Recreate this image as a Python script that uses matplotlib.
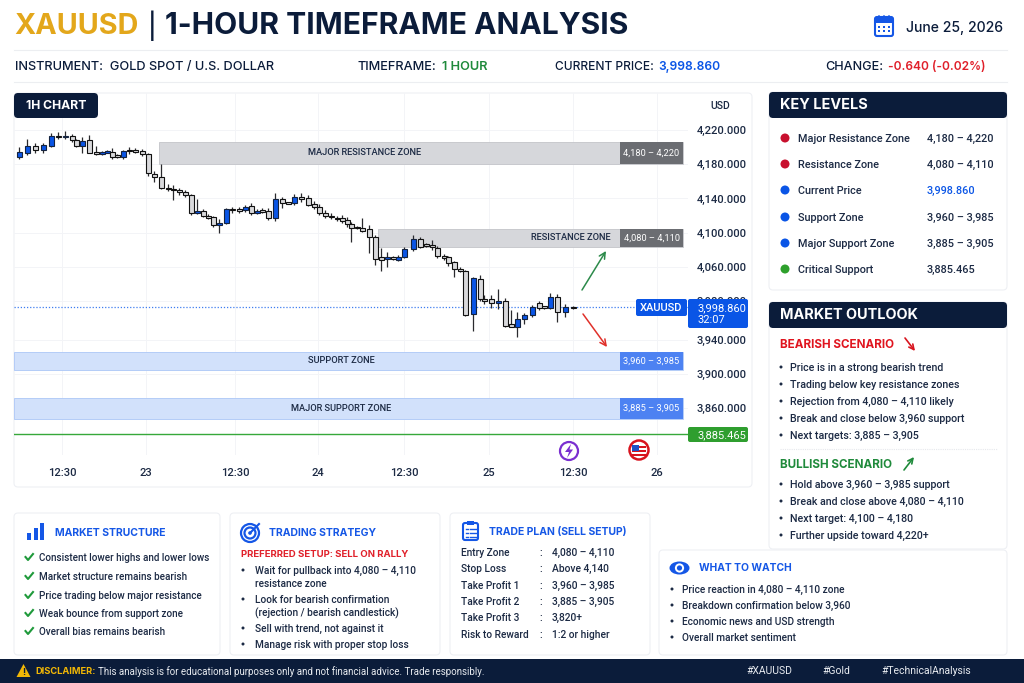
import matplotlib
matplotlib.use("Agg")
import matplotlib.pyplot as plt
from matplotlib.patches import FancyBboxPatch, Rectangle, Circle, Polygon, Ellipse

plt.rcParams['font.family'] = ['Inter', 'DejaVu Sans']

# ---------- candle data (chart price scale) ----------
candle_t = [0,8,16,24,32,39,46,53,57,63,70,77,83,88,93,98,104,110,116,123,
            129,135,142,149,154,160,166,172,178,184,189,194,200,207,213,220,226,232,238,243,
            249,256,263,269,275,282,289,295,300,306,312,318,323,328,332,338,343,350,356,362,
            368,374,379,385,394,401,407,413,418,425,429,435,441,446,454,461,465,472,479,486,
            492,498,505,513,520,525,531,538,546,554]
opens = [4188.1,4192.8,4201.3,4196.7,4201.3,4213.0,4211.5,4213.0,4208.3,4201.3,4208.3,4194.7,4192.4,4193.6,4194.7,4190.8,4188.1,4196.7,4196.3,4195.5,
         4191.6,4168.2,4165.5,4152.3,4151.1,4149.9,4148.0,4143.7,4123.1,4125.0,4120.0,4118.0,4108.7,4111.0,4128.1,4127.4,4126.6,4131.2,4122.7,4126.6,
         4125.4,4117.6,4139.0,4135.5,4134.3,4141.4,4141.0,4133.6,4130.5,4123.4,4119.9,4117.6,4116.8,4114.9,4109.8,4106.7,4105.9,4104.0,4094.6,4071.3,
         4068.9,4071.7,4068.2,4071.3,4080.6,4092.3,4086.8,4085.7,4082.6,4072.8,4071.3,4065.4,4057.3,4055.7,4004.7,4046.4,4023.0,4022.2,4017.6,4019.9,
         3993.4,3990.3,3998.9,4003.5,4018.3,4014.0,4012.5,4024.6,4007.8,4013.7]
highs = [4200.6,4209.1,4204.4,4204.4,4216.1,4217.7,4218.5,4215.4,4209.1,4212.2,4214.6,4201.3,4195.9,4196.7,4198.6,4191.6,4196.7,4200.6,4198.6,4197.8,
         4192.8,4172.1,4179.9,4156.9,4155.8,4151.9,4149.9,4145.3,4139.8,4128.1,4121.9,4119.6,4116.5,4128.5,4129.7,4129.7,4132.4,4134.3,4127.3,4128.5,
         4128.5,4146.0,4142.1,4136.3,4145.2,4146.0,4144.1,4137.5,4133.6,4126.6,4122.7,4119.6,4120.7,4118.0,4112.9,4107.9,4116.8,4109.0,4097.4,4081.8,
         4077.9,4072.8,4074.0,4083.7,4097.4,4095.4,4088.4,4091.5,4084.5,4075.2,4072.8,4067.4,4059.6,4056.5,4048.7,4050.6,4027.3,4027.3,4033.9,4023.4,
         4009.8,4007.8,4005.9,4015.6,4020.3,4014.8,4029.2,4028.5,4016.8,4014.8]
lows = [4186.5,4190.8,4192.8,4193.6,4200.6,4209.1,4209.1,4206.4,4200.6,4193.6,4192.8,4190.8,4190.8,4192.8,4186.5,4187.7,4185.8,4191.6,4192.8,4189.7,
        4166.3,4159.7,4150.7,4149.2,4138.3,4143.7,4141.4,4120.4,4121.5,4118.0,4116.5,4106.3,4100.1,4109.8,4123.5,4123.5,4124.6,4120.7,4121.9,4122.7,
        4114.9,4114.1,4128.5,4133.2,4132.4,4136.3,4131.2,4127.3,4120.7,4116.8,4116.1,4114.1,4111.8,4107.1,4089.6,4104.0,4101.3,4076.7,4062.3,4055.7,
        4060.4,4068.2,4067.0,4070.1,4079.1,4081.8,4083.7,4079.8,4070.1,4068.2,4061.2,4048.7,4054.1,4002.8,3985.2,4020.7,4016.8,4011.7,4010.5,3990.3,
        3989.5,3978.6,3993.4,4002.0,4009.8,4011.3,4011.3,3996.1,4002.0,4011.3]
closes = [4194.7,4201.3,4196.7,4202.1,4213.0,4211.5,4213.4,4208.3,4201.3,4207.6,4193.6,4192.0,4194.7,4195.1,4188.9,4188.1,4195.5,4195.5,4194.7,4191.6,
          4170.2,4164.7,4151.9,4150.7,4149.6,4148.0,4143.7,4123.5,4125.4,4119.6,4117.6,4109.5,4111.0,4127.4,4126.6,4125.8,4130.5,4123.4,4125.8,4124.6,
          4117.6,4139.0,4134.3,4134.0,4141.4,4139.4,4132.4,4130.5,4122.7,4119.6,4118.0,4115.7,4114.1,4109.8,4105.2,4105.2,4102.4,4094.6,4068.9,4068.2,
          4071.3,4069.7,4072.1,4080.6,4092.3,4083.7,4084.5,4083.0,4072.8,4070.1,4064.3,4057.3,4054.9,4003.9,4047.1,4022.2,4020.7,4017.6,4019.9,3991.1,
          3990.3,3998.9,4003.5,4013.7,4012.5,4012.1,4024.6,4007.8,4012.9,4012.1]

# y axis labels and the scale height where each one sits
tick_pos = [4220, 4180, 4140, 4100, 4060, 4020, 3975, 3935, 3895]
tick_labels = ['4,220.000','4,180.000','4,140.000','4,100.000','4,060.000','3,980.000','3,940.000','3,900.000','3,860.000']
time_pos = [43, 127, 216, 299, 385, 470, 554, 638]
time_labels = ['12:30','23','12:30','24','12:30','25','12:30','26']

zone_names = ['MAJOR RESISTANCE ZONE','RESISTANCE ZONE','SUPPORT ZONE','MAJOR SUPPORT ZONE']
zone_tags = ['4,180 – 4,220','4,080 – 4,110','3,960 – 3,985','3,885 – 3,905']
zone_top = [4206, 4104.5, 3960.7, 3907]
zone_bottom = [4180.3, 4083.3, 3939.7, 3882.5]
zone_start = [140, 359, -5, -5]
zone_label_x = [346, 552, 322, 322]
current_line = 4013.3
critical_line = 3864.9
up_arrow_t = [563, 587]
up_arrow_p = [4033.1, 4078.7]
down_arrow_t = [564, 588]
down_arrow_p = [4005.1, 3966.5]

key_names = ['Major Resistance Zone','Resistance Zone','Current Price','Support Zone','Major Support Zone','Critical Support']
key_values = ['4,180 – 4,220','4,080 – 4,110','3,998.860','3,960 – 3,985','3,885 – 3,905','3,885.465']
key_colors = ['#c8102e','#c8102e','#0a55e6','#0a55e6','#0a55e6','#2ea02c']

bear_items = ['Price is in a strong bearish trend','Trading below key resistance zones','Rejection from 4,080 – 4,110 likely','Break and close below 3,960 support','Next targets: 3,885 – 3,905']
bull_items = ['Hold above 3,960 – 3,985 support','Break and close above 4,080 – 4,110','Next target: 4,100 – 4,180','Further upside toward 4,220+']
structure_items = ['Consistent lower highs and lower lows','Market structure remains bearish','Price trading below major resistance','Weak bounce from support zone','Overall bias remains bearish']
plan_names = ['Entry Zone','Stop Loss','Take Profit 1','Take Profit 2','Take Profit 3','Risk to Reward']
plan_values = ['4,080 – 4,110','Above 4,140','3,960 – 3,985','3,885 – 3,905','3,820+','1:2 or higher']
watch_items = ['Price reaction in 4,080 – 4,110 zone','Breakdown confirmation below 3,960','Economic news and USD strength','Overall market sentiment']

NAVY = '#0b1c3a'; INK = '#1c2a44'; BLUE = '#0a55e6'; TITLEBLUE = '#1557e6'
RED = '#e0202a'; GREEN = '#1f8a3b'; GOLD = '#e3a71b'; EDGE = '#eef0f4'
BODY_FONT = ['Roboto', 'DejaVu Sans']

W, H = 1024, 683
fig = plt.figure(figsize=(W/100, H/100), dpi=100, facecolor='white')

def layer(z):
    a = fig.add_axes([0, 0, 1, 1], zorder=z)
    a.set_xlim(0, W); a.set_ylim(H, 0); a.axis('off')
    a.patch.set_alpha(0)
    return a

bg = layer(0)
top = layer(5)

def box(a, x0, y0, x1, y1, fc='white', ec='none', r=3, lw=0.8, z=1, alpha=None):
    a.add_patch(FancyBboxPatch((x0+r, y0+r), x1-x0-2*r, y1-y0-2*r,
                               boxstyle=f'round,pad={r},rounding_size={r}',
                               fc=fc, ec=ec, lw=lw, zorder=z, alpha=alpha))

def T(a, x, y, s, size=8, color=INK, weight='normal', ha='left', va='center', z=6):
    return a.text(x, y+0.7, s, fontsize=size, color=color, fontweight=weight, ha=ha, va=va, zorder=z)

def B(a, x, y, s, size=7.5, color=INK, weight='medium', ha='left', z=6):
    """Small body text in the narrower face."""
    return a.text(x, y+0.9, s, fontsize=size, color=color, fontweight=weight, ha=ha, va='center', zorder=z, family=BODY_FONT)

# ---------- header ----------
T(bg, 14, 25.5, 'XAUUSD', 20.7, GOLD, 'bold')
T(bg, 147.5, 25, '|', 18, NAVY, 'medium')
T(bg, 165, 25.5, '1-HOUR TIMEFRAME ANALYSIS', 21.6, NAVY, 'bold')
box(bg, 875, 17, 893, 36, 'white', TITLEBLUE, r=2, lw=1.5)
bg.add_patch(Rectangle((875, 18), 18, 4.5, fc=TITLEBLUE, ec='none', zorder=2))
for cx in (879, 884, 889):
    bg.plot([cx, cx], [15.5, 19], color=TITLEBLUE, lw=1.1, zorder=3)
    for cy in (26.5, 31):
        bg.add_patch(Rectangle((cx-1, cy-1), 2, 2, fc=TITLEBLUE, ec='none', zorder=2))
T(bg, 906, 27.5, 'June 25, 2026', 10.1, NAVY, 'medium')
for yy in (50, 82):
    bg.plot([14, 1007], [yy, yy], color='#eceef1', lw=0.8)
T(bg, 15, 66.5, 'INSTRUMENT:  GOLD SPOT / U.S. DOLLAR', 9.2, NAVY, 'medium')
T(bg, 358, 66.5, 'TIMEFRAME:', 9.2, NAVY, 'medium')
T(bg, 442, 66.5, '1 HOUR', 9.2, GREEN, 'semibold')
T(bg, 555, 66.5, 'CURRENT PRICE:', 8.6, NAVY, 'medium')
T(bg, 658, 66.5, '3,998.860', 8.7, BLUE, 'semibold')
T(bg, 825, 66.5, 'CHANGE:', 9.1, NAVY, 'medium')
T(bg, 888, 66.5, '-0.640 (-0.02%)', 8.6, RED, 'semibold')

# ---------- chart ----------
box(bg, 14, 93, 752, 487, 'white', EDGE, r=4)
L, R, Ttop, B_ = 14, 688, 93, 455
ax = fig.add_axes([L/W, 1-B_/H, (R-L)/W, (B_-Ttop)/H], zorder=1)
ax.patch.set_alpha(0)
ax.set_xlim(-5, 669)
ax.set_ylim(3840.4, 4263.2)
for s in ax.spines.values():
    s.set_visible(False)
ax.yaxis.tick_right()
ax.set_yticks(tick_pos); ax.set_yticklabels(tick_labels, fontsize=8.0, color=INK, fontweight='medium', family=BODY_FONT)
ax.set_xticks(time_pos); ax.set_xticklabels(time_labels, fontsize=8.0, color=INK, fontweight='medium', family=BODY_FONT)
ax.tick_params(axis='both', length=0)
ax.tick_params(axis='y', pad=6.5)
ax.tick_params(axis='x', pad=9)
ax.grid(True, color='#f3f4f7', lw=0.7)
ax.set_axisbelow(True)

zone_fill = ['#d6d7db','#d6d7db','#d2e1fb','#d2e1fb']
zone_line = ['#c8c9ce','#c8c9ce','#b4ccf7','#b4ccf7']
tag_fill = ['#6b6d72','#6b6d72','#4d82f2','#4d82f2']
TAG0, TAG1 = 601, 664
for n, t, hi, lo, st, lx, f, e, tf in zip(zone_names, zone_tags, zone_top, zone_bottom, zone_start, zone_label_x, zone_fill, zone_line, tag_fill):
    ax.add_patch(Rectangle((st, lo), TAG1-st, hi-lo, fc=f, ec=e, lw=0.7, zorder=1))
    ax.add_patch(Rectangle((TAG0, lo+0.5), TAG1-TAG0, hi-lo-1, fc=tf, ec='none', zorder=2))
    ax.text(lx, (hi+lo)/2, n, fontsize=6.7, color=INK, fontweight='medium', ha='center', va='center', zorder=3, family=BODY_FONT)
    ax.text((TAG0+TAG1)/2, (hi+lo)/2, t, fontsize=6.7, color='white', ha='center', va='center', zorder=3, family=BODY_FONT)

ax.axhline(current_line, color='#3f7df0', lw=0.9, ls=(0, (1, 1.5)), zorder=2)
ax.axhline(critical_line, color='#37a83a', lw=1.0, zorder=2)

for t, o, h, l, c in zip(candle_t, opens, highs, lows, closes):
    up = c > o
    ax.plot([t, t], [l, h], color='#2a2a2e', lw=0.9, zorder=4, solid_capstyle='butt')
    ax.add_patch(Rectangle((t-2.5, min(o, c)), 5.0, abs(c-o),
                           fc=BLUE if up else '#d9d9dc', ec='#14233f' if up else '#111111', lw=0.8, zorder=5))

ax.annotate('', xy=(up_arrow_t[1], up_arrow_p[1]), xytext=(up_arrow_t[0], up_arrow_p[0]),
            arrowprops=dict(arrowstyle='->', color='#2c8a4a', lw=1.1, mutation_scale=11, shrinkA=0, shrinkB=0), zorder=6)
ax.annotate('', xy=(down_arrow_t[1], down_arrow_p[1]), xytext=(down_arrow_t[0], down_arrow_p[0]),
            arrowprops=dict(arrowstyle='->', color='#e0302a', lw=1.1, mutation_scale=11, shrinkA=0, shrinkB=0), zorder=6)

B(top, 710, 105, 'USD', 7.6, INK)
box(top, 14, 93, 98, 118, NAVY, 'none', r=4, z=2)
T(top, 26, 105, '1H CHART', 8.8, 'white', 'bold')

# price tags
box(top, 636, 299, 687, 316, BLUE, 'none', r=2)
B(top, 661.5, 307, 'XAUUSD', 8.0, 'white', 'medium', ha='center')
box(top, 688, 299, 748, 328, BLUE, 'none', r=2)
B(top, 697, 307.5, '3,998.860', 8.0, 'white', 'normal')
B(top, 697, 319.5, '32:07', 8.0, 'white', 'normal')
box(top, 688, 427, 748, 442, '#2f9e2f', 'none', r=2)
B(top, 697, 434, '3,885.465', 8.0, 'white', 'normal')

# event icons
top.add_patch(Circle((569, 451), 9, fc='white', ec='#7a2fd0', lw=1.6))
top.add_patch(Polygon([(571, 444), (565, 452), (569, 452), (567, 458), (573, 449.5), (569.5, 449.5)], fc='#7a2fd0', ec='none', zorder=3))
top.add_patch(Circle((639, 450), 9.5, fc='white', ec='#d8141e', lw=1.8))
for yy in (446, 450, 454):
    top.add_patch(Rectangle((632, yy), 14, 2, fc='#d8141e', ec='none', zorder=3))
top.add_patch(Rectangle((632, 445), 7, 6, fc='#1d4fc4', ec='none', zorder=4))

# ---------- key levels ----------
box(bg, 769, 92, 1007, 290, 'white', EDGE, r=4)
box(bg, 769, 92, 1007, 118, NAVY, 'none', r=4, z=2)
T(bg, 780, 104.5, 'KEY LEVELS', 10.4, 'white', 'bold')
key_y = [138, 164, 190, 217, 243, 269]
for y, n, v, c in zip(key_y, key_names, key_values, key_colors):
    bg.add_patch(Circle((785, y), 4.5, fc=c, ec='none', zorder=3))
    B(bg, 798, y, n, 7.8, INK)
    B(bg, 927, y, v, 7.8, BLUE if n == 'Current Price' else INK)

# ---------- market outlook ----------
box(bg, 769, 302, 1007, 549, 'white', EDGE, r=4)
box(bg, 769, 302, 1007, 328, NAVY, 'none', r=4, z=2)
T(bg, 780, 314.5, 'MARKET OUTLOOK', 10.4, 'white', 'bold')
T(bg, 780, 344.5, 'BEARISH SCENARIO', 8.4, '#e0141e', 'bold')
bg.annotate('', xy=(915, 351), xytext=(905, 338), arrowprops=dict(arrowstyle='->', color='#d8141e', lw=1.2, mutation_scale=9, shrinkA=0, shrinkB=0))
for y, s in zip([367, 384, 401, 418, 435], bear_items):
    bg.add_patch(Circle((781, y), 1.5, fc=INK, ec='none'))
    B(bg, 790, y, s, 7.7)
bg.plot([780, 997], [449, 449], color='#e6e8ec', lw=0.8, ls=(0, (1, 1)))
T(bg, 780, 464.5, 'BULLISH SCENARIO', 8.4, '#1f8a3b', 'bold')
bg.annotate('', xy=(914, 457), xytext=(904, 470), arrowprops=dict(arrowstyle='->', color='#1f8a3b', lw=1.2, mutation_scale=9, shrinkA=0, shrinkB=0))
for y, s in zip([484, 501, 518, 535], bull_items):
    bg.add_patch(Circle((781, y), 1.5, fc=INK, ec='none'))
    B(bg, 790, y, s, 7.7)

# ---------- market structure ----------
box(bg, 14, 513, 220, 655, 'white', EDGE, r=4)
for x0, h in zip((27, 33.5, 40), (7, 12, 17)):
    bg.add_patch(Rectangle((x0, 540-h), 4.2, h, fc=TITLEBLUE, ec='none'))
T(bg, 55, 532.5, 'MARKET STRUCTURE', 7.5, TITLEBLUE, 'bold')
for y, s in zip([557, 576, 595, 613, 631], structure_items):
    bg.plot([25.5, 28, 33], [y, y+3, y-3], color='#1f9a3b', lw=1.5)
    B(bg, 39, y, s, 7.1)

# ---------- trading strategy ----------
box(bg, 230, 513, 440, 655, 'white', EDGE, r=4)
for r_ in (9, 5.5):
    bg.add_patch(Circle((250, 533), r_, fc='none', ec=TITLEBLUE, lw=1.6))
bg.add_patch(Circle((250, 533), 1.8, fc=TITLEBLUE, ec='none'))
bg.plot([250, 259], [533, 524], color=TITLEBLUE, lw=1.5)
T(bg, 269, 532.5, 'TRADING STRATEGY', 7.5, TITLEBLUE, 'bold')
T(bg, 241, 553.5, 'PREFERRED SETUP: SELL ON RALLY', 6.9, '#e0202a', 'bold')
strategy_lines = [(570, 'Wait for pullback into 4,080 – 4,110', True), (583, 'resistance zone', False),
                  (599, 'Look for bearish confirmation', True), (612, '(rejection / bearish candlestick)', False),
                  (628, 'Sell with trend, not against it', True), (644, 'Manage risk with proper stop loss', True)]
for y, s, b in strategy_lines:
    if b:
        bg.add_patch(Circle((243, y), 1.5, fc=INK, ec='none'))
    B(bg, 255, y, s, 7.3)

# ---------- trade plan ----------
box(bg, 450, 513, 650, 655, 'white', EDGE, r=4)
box(bg, 463, 523, 478, 540, 'white', TITLEBLUE, r=2, lw=1.5)
bg.add_patch(Rectangle((467, 521), 7, 4, fc=TITLEBLUE, ec='none', zorder=3))
for yy in (529, 533, 536.5):
    bg.plot([465.5, 467.5], [yy, yy], color=TITLEBLUE, lw=1.0, zorder=3)
    bg.plot([469.5, 475.5], [yy, yy], color=TITLEBLUE, lw=1.0, zorder=3)
T(bg, 489, 531.5, 'TRADE PLAN (SELL SETUP)', 7.5, TITLEBLUE, 'bold')
for y, n, v in zip([552, 568, 585, 601, 617, 634], plan_names, plan_values):
    B(bg, 461, y, n, 7.3)
    B(bg, 539, y, ':', 7.3)
    B(bg, 552, y, v, 7.4)

# ---------- what to watch ----------
box(bg, 659, 550, 1007, 655, 'white', EDGE, r=4, z=3)
bg.add_patch(Ellipse((679.5, 568), 20, 13, fc=TITLEBLUE, ec='none', zorder=4))
bg.add_patch(Circle((679.5, 568), 4.6, fc='white', ec='none', zorder=5))
bg.add_patch(Circle((679.5, 568), 2.6, fc=TITLEBLUE, ec='none', zorder=6))
T(bg, 699, 567.5, 'WHAT TO WATCH', 7.4, TITLEBLUE, 'bold')
for y, s in zip([589, 605, 621, 637], watch_items):
    bg.add_patch(Circle((672, y), 1.5, fc=INK, ec='none', zorder=4))
    B(bg, 682, y, s, 7.25)

# ---------- footer ----------
bg.add_patch(Rectangle((0, 659), W, 24, fc=NAVY, ec='none', zorder=7))
bg.add_patch(Polygon([(23.5, 664), (30.5, 677), (16.5, 677)], fc='#f2b705', ec='none', zorder=8))
T(bg, 23.5, 671.5, '!', 6.5, NAVY, 'bold', ha='center', z=9)
T(bg, 35, 670.5, 'DISCLAIMER:', 6.7, '#f2b705', 'bold', z=9)
B(bg, 98, 670.5, 'This analysis is for educational purposes only and not financial advice. Trade responsibly.', 7.0, '#e8ebf0', 'normal', z=9)
for x, s in zip((746, 822, 881), ('#XAUUSD', '#Gold', '#TechnicalAnalysis')):
    B(bg, x, 670.5, s, 7.5, '#e8ebf0', 'normal', z=9)

fig.savefig('out.png', dpi=100, facecolor='white')
